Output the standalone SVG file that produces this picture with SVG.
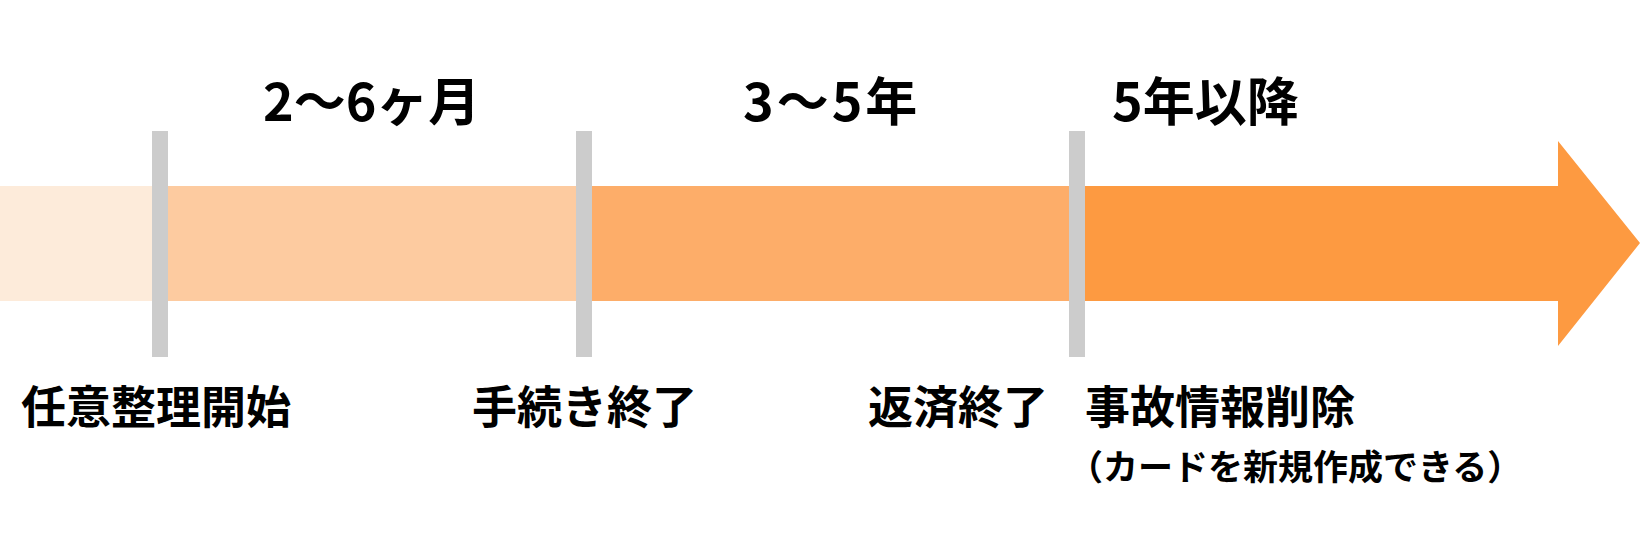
<svg xmlns="http://www.w3.org/2000/svg" width="1640" height="560" viewBox="0 0 1640 560">
  <style>
    .lbl { font-family: "Noto Sans CJK JP", "Noto Sans", sans-serif; font-weight: 700; fill: #000000; }
    .top { font-size: 52px; }
    .bot { font-size: 45px; }
    .sub { font-size: 35px; }
    .bar { fill: #CCCCCC; }
  </style>
  <rect width="1640" height="560" fill="#FFFFFF"/>
  <g id="timeline">
    <rect id="seg0" x="0" y="186" width="152" height="115" fill="#FDEBDA"/>
    <rect id="seg1" x="152" y="186" width="424" height="115" fill="#FDCBA0"/>
    <rect id="seg2" x="576" y="186" width="493" height="115" fill="#FDAD69"/>
    <polygon id="seg3" points="1069,186 1558,186 1558,141 1640,243 1558,346 1558,301 1069,301" fill="#FD9A41"/>
  </g>
  <g id="connectors">
    <rect class="bar" x="152" y="131" width="16" height="226"/>
    <rect class="bar" x="576" y="131" width="16" height="226"/>
    <rect class="bar" x="1069" y="131" width="16" height="226"/>
  </g>
  <g id="period1"><text class="lbl top" x="263" y="121">2〜6ヶ月</text></g>
  <g id="period2"><text class="lbl top" x="743" y="121" letter-spacing="3">3〜5年</text></g>
  <g id="period3"><text class="lbl top" x="1112" y="121">5年以降</text></g>
  <g id="event1"><text class="lbl bot" x="21" y="424">任意整理開始</text></g>
  <g id="event2"><text class="lbl bot" x="472" y="424">手続き終了</text></g>
  <g id="event3"><text class="lbl bot" x="868" y="424">返済終了</text></g>
  <g id="event4">
    <text class="lbl bot" x="1085" y="424">事故情報削除</text>
    <text class="lbl sub" x="1068" y="480">（カードを新規作成できる）</text>
  </g>
</svg>
